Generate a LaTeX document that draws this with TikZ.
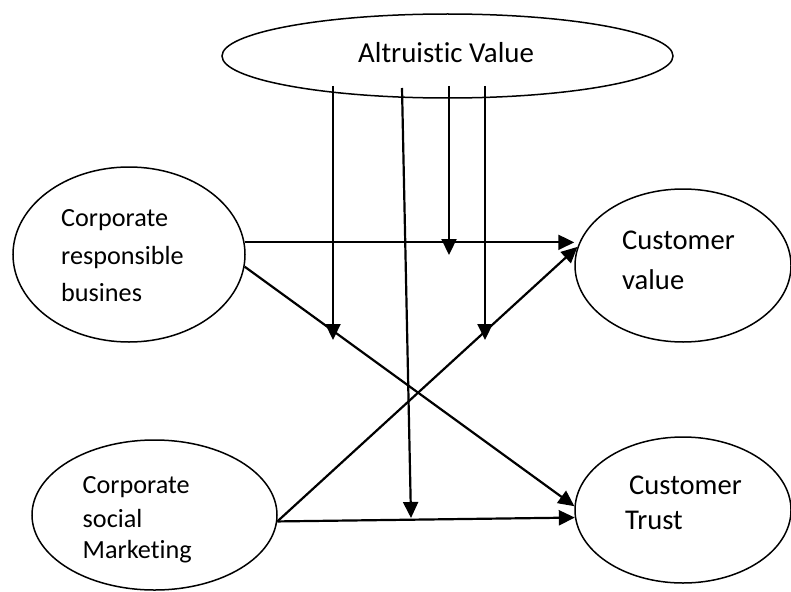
\documentclass[tikz,border=0pt]{standalone}
\usepackage{fontspec}
\setmainfont{Carlito}[Ligatures={NoCommon,NoContextual,NoRequired},Contextuals=NoAlternate]
\usetikzlibrary{shapes.geometric,arrows.meta,calc}
\begin{document}
\begin{tikzpicture}[x=1pt,y=-1pt,
  ell/.style={draw,ellipse,line width=1.5pt,inner sep=0pt},
  arr/.style={line width=2.2pt,-{Triangle[length=16pt,width=15pt]}},
  lbl/.style={inner sep=0pt,anchor=base west}]
\useasboundingbox (0,0) rectangle (791,591);
% ellipses
\node[ell,minimum width=451pt,minimum height=84pt] (av) at (447.5,56) {};
\node[ell,minimum width=232pt,minimum height=175pt] (crb) at (129,254.5) {};
\node[ell,minimum width=245pt,minimum height=150pt] (csm) at (154.5,515) {};
\node[ell,minimum width=216pt,minimum height=153pt] (cv) at (683,265.5) {};
\node[ell,minimum width=216pt,minimum height=146pt] (ct) at (683,510) {};
% texts
\node[lbl,font=\fontsize{28.9}{35}\selectfont] (avt) at (358,63) {Altruist\kern0pt ic Value};
\begin{scope}[every node/.append style={font=\fontsize{26.2}{32}\selectfont}]
\node[lbl] (crb1) at (61,226) {Corporate};
\node[lbl] (crb2) at (61,264) {responsible};
\node[lbl] (crb3) at (61,301) {busines};
\node[lbl] (csm1) at (82.5,493) {Corporate};
\node[lbl] (csm2) at (82.5,527) {social};
\node[lbl] (csm3) at (82.5,558) {Market\kern0pt ing};
\end{scope}
\begin{scope}[every node/.append style={font=\fontsize{28.6}{34}\selectfont}]
\node[lbl] (cv1) at (622,249) {Customer};
\node[lbl] (cv2) at (622,289) {value};
\node[lbl] (ct1) at (629,494) {Customer};
\node[lbl] (ct2) at (625,529) {Trust};
\end{scope}
% main connectors
\draw[arr] (crb.6) -- (crb.6 -| cv.west);
\draw[arr] (crb.-6) -- (ct.178);
\draw[arr] (csm.-3) -- (cv.170);
\draw[arr] (csm.-3) -- (ct.184);
% moderating arrows
\coordinate (s1) at (333,86);  \coordinate (e1) at (333,340);
\coordinate (s2) at (402,88);  \coordinate (e2) at (411,518);
\coordinate (s3) at (449,86);  \coordinate (e3) at (449,255);
\coordinate (s4) at (485,86);  \coordinate (e4) at (485,340);
\draw[arr] (s1) -- (e1);
\draw[arr] (s2) -- (e2);
\draw[arr] (s3) -- (e3);
\draw[arr] (s4) -- (e4);
\end{tikzpicture}
\end{document}
